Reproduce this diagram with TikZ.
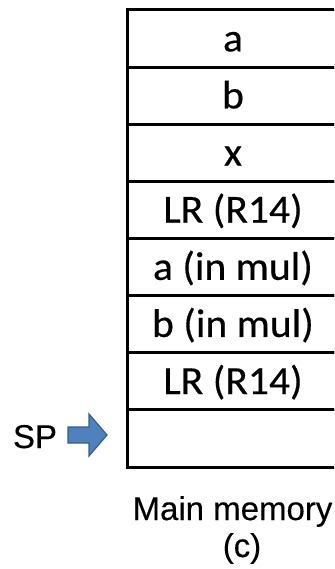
\documentclass[tikz,border=0pt]{standalone}
\usepackage{fontspec}
\setmainfont{Liberation Sans}
\newfontfamily\cellfont[FakeStretch=1.04, FakeBold=0.4]{Carlito}
\newfontfamily\labelfont[FakeBold=0.3]{Liberation Sans}
\definecolor{arrowfill}{HTML}{4F81BD}
\definecolor{arrowline}{HTML}{385D8A}
\tikzset{
  memcell/.style={draw=black, line width=3pt, minimum width=212pt,
    minimum height=57.125pt, inner sep=0pt, text height=25.5pt, text depth=0pt,
    font=\cellfont\fontsize{40}{44}\selectfont},
  caption/.style={inner sep=0pt, anchor=base,
    font=\labelfont\fontsize{33}{36}\selectfont},
  pointer/.style={fill=arrowfill, draw=arrowline, line width=1.2pt, line join=miter}
}
\begin{document}
\begin{tikzpicture}[x=1pt, y=-1pt]
  \useasboundingbox (0,0) rectangle (334,569);
  \clip (0,0) rectangle (334,569);
  % stack frame cells, top to bottom
  \foreach \name/\txt [count=\i] in {c1/a, c2/b, c3/x, c4/LR (R14),
      c5/a (in mul), c6/b (in mul), c7/LR (R14), c8/{}} {
    \node[memcell] (\name) at (233, {10 + (\i-0.5)*57.125}) {\txt};
  }
  % stack pointer label and block arrow
  \node[caption] (sp) at (35, 448) {SP};
  \coordinate (tip) at (107, 435);
  \filldraw[pointer] (68, 427) -- (89, 427) -- (89, 414) -- (tip)
    -- (89, 456) -- (89, 443) -- (68, 443) -- cycle;
  % caption under the stack
  \node[caption] (mm) at (232.5, 520) {Main memory};
  \node[caption] (cap) at (242, 557) {(c)};
\end{tikzpicture}
\end{document}
